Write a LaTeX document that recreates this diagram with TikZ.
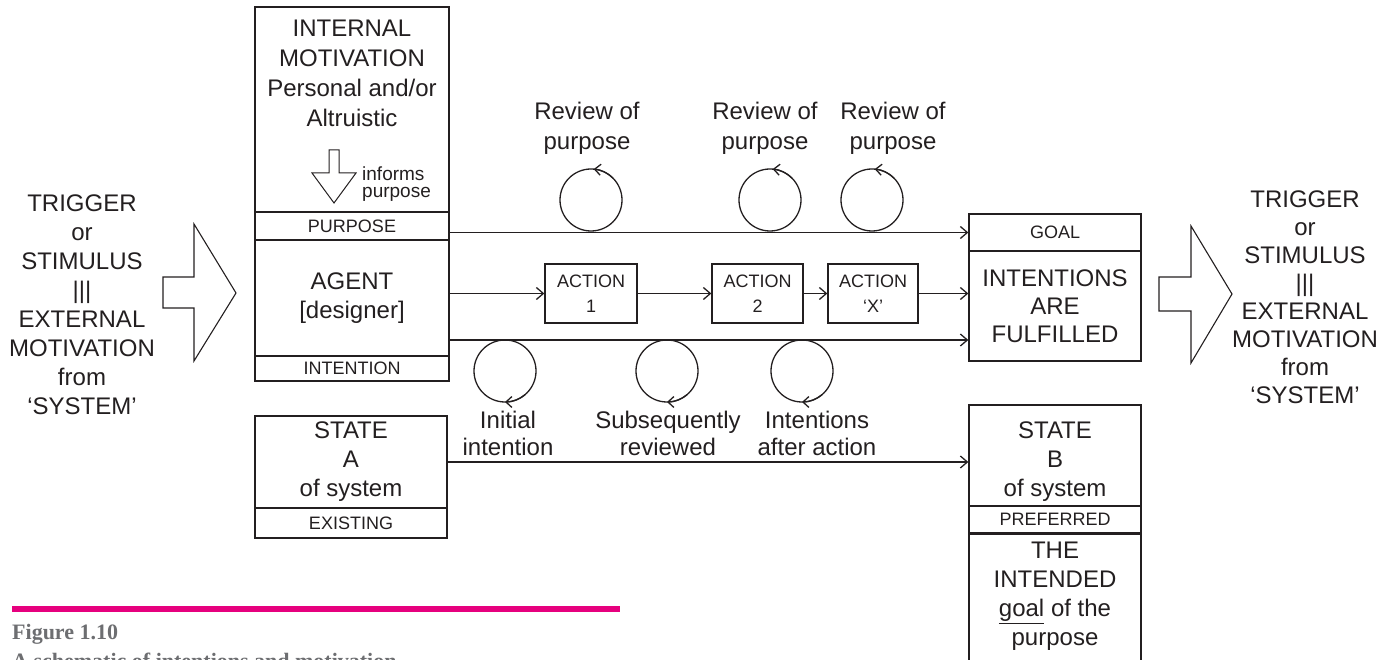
\documentclass[tikz,border=0pt]{standalone}
\usepackage{fontspec}
\setmainfont{Liberation Sans}
\newfontfamily\capserif{Liberation Serif}
\usetikzlibrary{arrows.meta}
\definecolor{ink}{HTML}{231F20}
\definecolor{pinkbar}{HTML}{E6007E}
\definecolor{capgray}{HTML}{6D6E71}
\newcommand\fbig{\fontsize{24}{29}\selectfont}
\newcommand\fbigw{\fontsize{24}{30}\selectfont}
\newcommand\fbign{\fontsize{24}{28}\selectfont}
\newcommand\fbigl{\fontsize{24}{27}\selectfont}
\newcommand\fsmall{\fontsize{18}{25}\selectfont}
\newcommand\ftiny{\fontsize{19}{17}\selectfont}
\begin{document}
\begin{tikzpicture}[x=1pt,y=1pt,
  every node/.style={text=ink},
  line/.style={draw=ink, line width=1.1pt, line join=miter},
  boxn/.style={draw=ink, line width=1.3pt, rectangle, inner sep=0pt, align=center, font=\fbig},
  band/.style={draw=ink, line width=1.8pt, rectangle, inner sep=0pt, font=\fsmall},
  abox/.style={draw=ink, line width=1.3pt, rectangle, inner sep=0pt, align=center, font=\fsmall, minimum height=59pt},
  circ/.style={draw=ink, line width=1.3pt, circle, inner sep=0pt, minimum size=62pt},
  conn/.style={draw=ink, line width=1.3pt, -{Straight Barb[length=7pt,width=12pt]}},
  tip/.style={draw=ink, line width=1.3pt, -{Straight Barb[length=6pt,width=11pt]}},
  txt/.style={align=center, font=\fbig}
]
\useasboundingbox (0,0) rectangle (1385,-660);
\clip (0,0) rectangle (1385,-660);

% side texts
\node[txt] (ltext) at (82,-304.5) {TRIGGER\\or\\STIMULUS\\|||\\EXTERNAL\\MOTIVATION\\from\\‘SYSTEM’};
\node[txt, font=\fbign] (rtext) at (1305,-297.5) {TRIGGER\\or\\STIMULUS\\|||\\EXTERNAL\\MOTIVATION\\from\\‘SYSTEM’};

% big arrows
\draw[line] (163,-277) -- (194,-277) -- (194,-224) -- (236,-293) -- (194,-361) -- (194,-308) -- (163,-308) -- cycle;
\draw[line] (1159,-277) -- (1191,-277) -- (1191,-226) -- (1232,-294) -- (1191,-363) -- (1191,-311) -- (1159,-311) -- cycle;

% left column
\node[boxn, minimum width=194pt, minimum height=205pt] (intmot) at (352,-109.5) {};
\node[txt, font=\fbigw] (intmottxt) at (352,-73.5) {INTERNAL\\MOTIVATION\\Personal and/or\\Altruistic};
\draw[line, line width=1pt] (329,-150) -- (339,-150) -- (339,-173) -- (356,-173) -- (334,-203) -- (312,-173) -- (329,-173) -- cycle;
\node[font=\ftiny, align=left, anchor=west, inner sep=0pt] (informs) at (362,-184) {informs\\purpose};
\node[boxn, minimum width=194pt, minimum height=116pt] (agent) at (352,-298) {AGENT\\{[}designer{]}};
\node[band, minimum width=194pt, minimum height=28pt] (purpose) at (352,-226) {PURPOSE};
\node[band, minimum width=194pt, minimum height=25pt] (intention) at (352,-368.5) {INTENTION};

\node[boxn, minimum width=192pt, minimum height=92pt] (stateA) at (351,-462) {STATE\\A\\of system};
\node[band, line width=1.3pt, minimum width=192pt, minimum height=30pt] (existing) at (351,-523) {EXISTING};

% actions
\node[abox, minimum width=92pt] (a1) at (591,-293.5) {ACTION\\1};
\node[abox, minimum width=91pt] (a2) at (757.5,-293.5) {ACTION\\2};
\node[abox, minimum width=90pt] (ax) at (873,-293.5) {ACTION\\‘X’};

% right column
\node[boxn, font=\fsmall, minimum width=172pt, minimum height=37pt] (goal) at (1055,-232.5) {GOAL};
\node[boxn, font=\fbign, minimum width=172pt, minimum height=110pt] (fulfil) at (1055,-306) {INTENTIONS\\ARE\\FULFILLED};
\node[boxn, minimum width=172pt, minimum height=101pt] (stateB) at (1055,-455.5) {};
\node[txt] (stateBtxt) at (1055,-462) {STATE\\B\\of system};
\node[boxn, minimum width=172pt, minimum height=157pt] (intended) at (1055,-611.5) {};
\node[band, line width=1.3pt, minimum width=172pt, minimum height=27pt] (preferred) at (1055,-519.5) {PREFERRED};
\draw[draw=ink, line width=1.8pt] (preferred.south west) -- (preferred.south east);
\node[txt] (intendedtxt) at (1055,-596.5) {THE\\INTENDED\\\underline{goal} of the\\purpose};

% review circles
\node[circ] (r1) at (591,-200) {};
\node[circ] (r2) at (770,-200) {};
\node[circ] (r3) at (872,-200) {};
\draw[tip] (r1.center) ++(45:31pt) arc (45:85:31pt);
\draw[tip] (r2.center) ++(45:31pt) arc (45:85:31pt);
\draw[tip] (r3.center) ++(45:31pt) arc (45:85:31pt);
\node[txt, font=\fbigw] (rv1) at (587,-128) {Review of\\purpose};
\node[txt, font=\fbigw] (rv2) at (765,-128) {Review of\\purpose};
\node[txt, font=\fbigw] (rv3) at (893,-128) {Review of\\purpose};

\node[circ] (b1) at (505,-371) {};
\node[circ] (b2) at (667,-371) {};
\node[circ] (b3) at (802,-371) {};
\draw[tip] (b1.center) ++(310:31pt) arc (310:270:31pt);
\draw[tip] (b2.center) ++(310:31pt) arc (310:270:31pt);
\draw[tip] (b3.center) ++(310:31pt) arc (310:270:31pt);
\node[txt, font=\fbigl] (i1) at (508,-433) {Initial\\intention};
\node[txt, font=\fbigl] (i2) at (668,-433) {Subsequently\\reviewed};
\node[txt, font=\fbigl] (i3) at (817,-433) {Intentions\\after action};

% connectors
\draw[conn] (purpose.east |- goal.west) -- (goal.west);
\draw[conn] (agent.east |- a1.west) -- (a1.west);
\draw[conn] (a1) -- (a2);
\draw[conn] (a2) -- (ax);
\draw[conn] (ax.east) -- (ax.east -| fulfil.west);
\coordinate (lowstart) at ([yshift=-42pt]agent.east);
\draw[conn] (lowstart) -- (lowstart -| fulfil.west);
\draw[conn] (stateA.east) -- (stateA.east -| stateB.west);

% caption
\fill[pinkbar] (12,-606) rectangle (620,-612);
\node[font=\capserif\bfseries\fontsize{22}{24}\selectfont, text=capgray, anchor=west, inner sep=0pt] (figlbl) at (12,-634) {Figure 1.10};
\node[font=\capserif\bfseries\fontsize{22}{24}\selectfont, text=capgray, anchor=base west, inner sep=0pt] (figcap) at (12,-668) {A schematic of intentions and motivation};
\end{tikzpicture}
\end{document}
